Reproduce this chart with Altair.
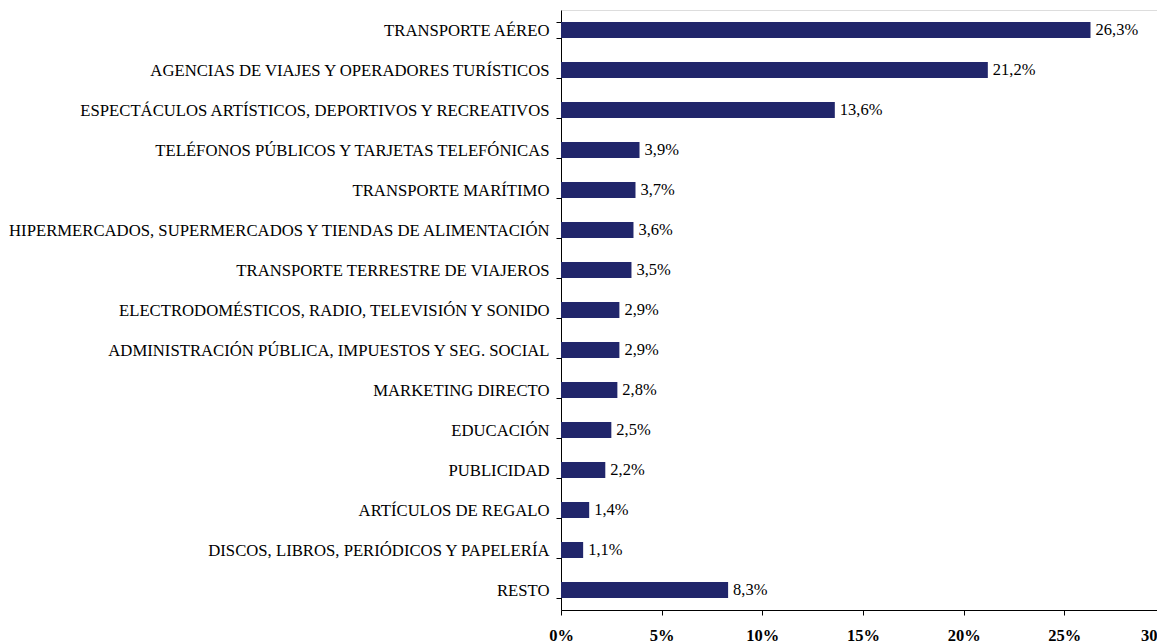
import altair as alt
import pandas as pd

categories = [
    "TRANSPORTE AÉREO",
    "AGENCIAS DE VIAJES Y OPERADORES TURÍSTICOS",
    "ESPECTÁCULOS ARTÍSTICOS, DEPORTIVOS Y RECREATIVOS",
    "TELÉFONOS PÚBLICOS Y TARJETAS TELEFÓNICAS",
    "TRANSPORTE MARÍTIMO",
    "HIPERMERCADOS, SUPERMERCADOS Y TIENDAS DE ALIMENTACIÓN",
    "TRANSPORTE TERRESTRE DE VIAJEROS",
    "ELECTRODOMÉSTICOS, RADIO, TELEVISIÓN Y SONIDO",
    "ADMINISTRACIÓN PÚBLICA, IMPUESTOS Y SEG. SOCIAL",
    "MARKETING DIRECTO",
    "EDUCACIÓN",
    "PUBLICIDAD",
    "ARTÍCULOS DE REGALO",
    "DISCOS, LIBROS, PERIÓDICOS Y PAPELERÍA",
    "RESTO",
]
values = [26.3, 21.2, 13.6, 3.9, 3.7, 3.6, 3.5, 2.9, 2.9, 2.8, 2.5, 2.2, 1.4, 1.1, 8.3]
value_labels = ["26,3%", "21,2%", "13,6%", "3,9%", "3,7%", "3,6%", "3,5%", "2,9%",
                "2,9%", "2,8%", "2,5%", "2,2%", "1,4%", "1,1%", "8,3%"]
x_ticks = [0, 5, 10, 15, 20, 25, 30]

df = pd.DataFrame({"cat": categories, "val": values, "lab": value_labels})

FONT = "Liberation Serif"
FS = 16.5

y_enc = alt.Y(
    "cat:N",
    sort=categories,
    title=None,
    scale=alt.Scale(paddingInner=0.6, paddingOuter=0.3),
    axis=alt.Axis(
        labelFont=FONT, labelFontSize=16.7, labelColor="black", labelLimit=0,
        labelPadding=7, tickSize=5, tickColor="black", domainColor="black",
        tickBand="extent", grid=False,
    ),
)
x_enc = alt.X(
    "val:Q",
    title=None,
    scale=alt.Scale(domain=[0, 30], nice=False),
    axis=alt.Axis(
        values=x_ticks, labelExpr="datum.value + '%'", labelFont=FONT,
        labelFontSize=FS, labelFontWeight="bold", labelColor="black",
        labelPadding=12, tickSize=5, tickColor="black", domainColor="black",
        grid=False, labelFlush=False, labelOverlap=False,
        labelOffset=alt.ExprRef(expr="datum.value == 30 ? -8 : 0"),
    ),
)

bars = alt.Chart(df).mark_bar(color="#21266B").encode(x=x_enc, y=y_enc)
text = alt.Chart(df).mark_text(
    align="left", baseline="middle", dx=5, font=FONT, fontSize=FS, color="black"
).encode(x="val:Q", y=alt.Y("cat:N", sort=categories), text="lab:N")

chart = (
    alt.layer(bars, text)
    .properties(
        width=604, height=600,
        autosize=alt.AutoSizeParams(type="none"),
        padding={"left": 553, "top": 2, "right": -8, "bottom": 33},
    )
    .configure_view(stroke=None)
    .configure(background="white")
)

chart.save("out.html", embed_options={"renderer": "svg", "actions": False})
